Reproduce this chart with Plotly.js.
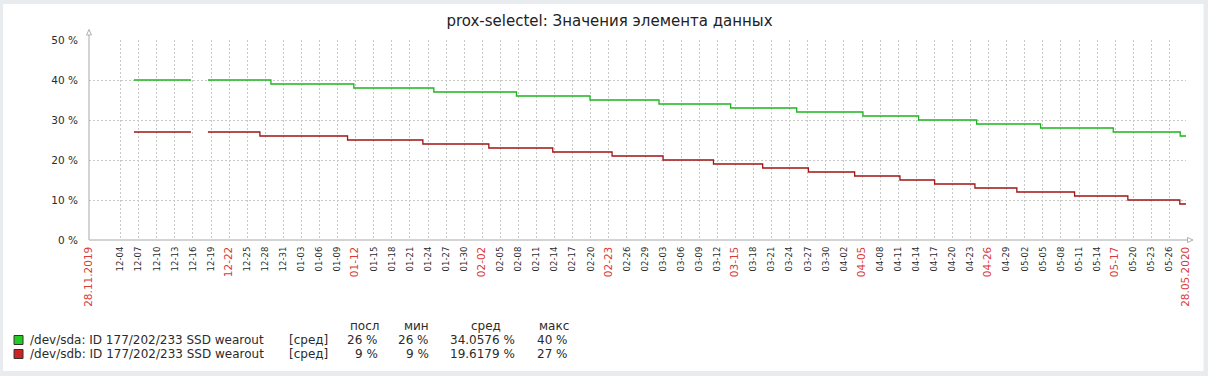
<!DOCTYPE html>
<html>
<head>
<meta charset="utf-8">
<script src="https://cdn.plot.ly/plotly-3.0.1.min.js"></script>
<style>html,body{margin:0;padding:0;background:#fff;}#chart{width:1208px;height:376px;}</style>
</head>
<body>
<div id="chart"></div>
<script>
// ---- data ----
const chartTitle = 'prox-selectel: Значения элемента данных';
const rangeStart = '2019-11-28 18:00';
const rangeEnd = '2020-05-28 18:00';

const sdaTimes = ['2019-12-06 05:00','2019-12-15 16:00','2019-12-15 17:00','2019-12-18 11:30','2019-12-28 22:20','2020-01-11 16:30','2020-01-24 23:00','2020-02-07 16:00','2020-02-19 21:00','2020-03-02 07:40','2020-03-14 05:00','2020-03-25 04:00','2020-04-05 03:40','2020-04-14 09:20','2020-04-24 00:15','2020-05-04 15:00','2020-05-16 16:20','2020-05-27 19:00','2020-05-28 18:00'];
const sdaValues = [40,40,null,40,39,38,37,36,35,34,33,32,31,30,29,28,27,26,26];

const sdbTimes = ['2019-12-06 05:00','2019-12-15 16:00','2019-12-15 17:00','2019-12-18 11:30','2019-12-27 02:30','2020-01-10 15:30','2020-01-23 03:20','2020-02-03 02:00','2020-02-13 16:30','2020-02-23 12:40','2020-03-02 23:45','2020-03-11 08:30','2020-03-19 12:30','2020-03-27 02:30','2020-04-03 18:40','2020-04-11 07:00','2020-04-17 01:00','2020-04-23 17:30','2020-04-30 16:30','2020-05-10 06:15','2020-05-19 02:30','2020-05-27 17:20','2020-05-28 18:00'];
const sdbValues = [27,27,null,27,26,25,24,23,22,21,20,19,18,17,16,15,14,13,12,11,10,9,9];

const seriesNames = ['/dev/sda: ID 177/202/233 SSD wearout','/dev/sdb: ID 177/202/233 SSD wearout'];
const seriesFunc = ['[сред]','[сред]'];
const statHeaders = ['посл','мин','сред','макс'];
const sdaStats = ['26 %','26 %','34.0576 %','40 %'];
const sdbStats = ['9 %','9 %','19.6179 %','27 %'];

const yTickVals = [0,10,20,30,40,50];
const yTickText = ['0 %','10 %','20 %','30 %','40 %','50 %'];
const redTickLabels = ['12-22','01-12','02-02','02-23','03-15','04-05','04-26','05-17'];
const edgeTickLabels = ['28.11.2019','28.05.2020'];
const firstTick = '2019-12-04';
const lastTick = '2020-05-26';

// ---- styles ----
const GREEN = '#1db41d', RED = '#a01515';
const GREEN_BOX = '#22cc22', RED_BOX = '#cc2222';
const TXT = '#2b2b2b', RED_TXT = '#d83b3b';
const FONT = 'DejaVu Sans';

// build 3-day tick list
const redSpan = s => '<span style="color:' + RED_TXT + ';font-size:10.5px">' + s + '</span>';
const tickVals = [rangeStart], tickText = [redSpan(edgeTickLabels[0])];
{
  let d = new Date(firstTick + 'T00:00:00Z');
  const end = new Date(lastTick + 'T00:00:00Z');
  while (d <= end) {
    const iso = d.toISOString().slice(0,10);
    const lbl = iso.slice(5);
    tickVals.push(iso);
    tickText.push(redTickLabels.includes(lbl) ? redSpan(lbl) : lbl);
    d = new Date(d.getTime() + 3*86400000);
  }
}
tickVals.push(rangeEnd);
tickText.push(redSpan(edgeTickLabels[1]));

// pixel helpers (plot area 89..1186.5, 40..240)
const L = 89, R = 1186.5, T = 40, B = 240;
const px = x => (x - L) / (R - L);
const py = y => (B - y) / (B - T);

const traces = [
  {x: sdaTimes, y: sdaValues, type: 'scatter', mode: 'lines', line: {shape: 'hv', color: GREEN, width: 1.3}, connectgaps: false, hoverinfo: 'skip'},
  {x: sdbTimes, y: sdbValues, type: 'scatter', mode: 'lines', line: {shape: 'hv', color: RED, width: 1.3}, connectgaps: false, hoverinfo: 'skip'}
];

const shapes = [
  {type: 'rect', xref: 'paper', yref: 'paper', x0: px(3), x1: px(1204), y0: py(371), y1: py(4), fillcolor: '#ffffff', line: {width: 0}, layer: 'below'},
  {type: 'line', xref: 'paper', yref: 'paper', x0: px(89), x1: px(89), y0: py(240), y1: py(35), line: {color: '#a8a8a8', width: 1}},
  {type: 'path', xref: 'paper', yref: 'paper', path: '', line: {color: '#b0b0b0', width: 1}, fillcolor: '#ffffff'},
  {type: 'line', xref: 'paper', yref: 'paper', x0: px(89), x1: px(1188), y0: py(240), y1: py(240), line: {color: '#a8a8a8', width: 1}},
  {type: 'path', xref: 'paper', yref: 'paper', path: '', line: {color: '#b0b0b0', width: 1}, fillcolor: '#ffffff'},
  {type: 'rect', xref: 'paper', yref: 'paper', x0: px(14), x1: px(23), y0: py(344.5), y1: py(335.5), fillcolor: GREEN_BOX, line: {color: '#333', width: 1}},
  {type: 'rect', xref: 'paper', yref: 'paper', x0: px(14), x1: px(23), y0: py(358.5), y1: py(349.5), fillcolor: RED_BOX, line: {color: '#333', width: 1}}
];
shapes[2].path = 'M ' + px(86.5) + ' ' + py(35) + ' L ' + px(89) + ' ' + py(29.5) + ' L ' + px(91.5) + ' ' + py(35) + ' Z';
shapes[4].path = 'M ' + px(1188) + ' ' + py(237.5) + ' L ' + px(1193.5) + ' ' + py(240) + ' L ' + px(1188) + ' ' + py(242.5) + ' Z';

const ann = [];
const f = (size, color) => ({family: FONT, size: size, color: color || TXT});
const LF = 12;
const headerCenters = [365, 417, 486, 554];
const valueRights = [380, 431, 517, 570];
statHeaders.forEach((h, i) => ann.push({xref: 'paper', yref: 'paper', x: px(headerCenters[i]), y: py(326), text: h, showarrow: false, xanchor: 'center', yanchor: 'middle', font: f(LF)}));
[sdaStats, sdbStats].forEach((row, r) => {
  const yy = py(r === 0 ? 340 : 354);
  ann.push({xref: 'paper', yref: 'paper', x: px(28), y: yy, text: seriesNames[r], showarrow: false, xanchor: 'left', yanchor: 'middle', font: f(LF)});
  ann.push({xref: 'paper', yref: 'paper', x: px(287), y: yy, text: seriesFunc[r], showarrow: false, xanchor: 'left', yanchor: 'middle', font: f(LF)});
  row.forEach((v, i) => ann.push({xref: 'paper', yref: 'paper', x: px(valueRights[i]), y: yy, text: v, showarrow: false, xanchor: 'right', yanchor: 'middle', font: f(LF)}));
});

const layout = {
  width: 1208, height: 376,
  margin: {l: L, r: 1208 - R, t: T, b: 376 - B, pad: 0},
  paper_bgcolor: '#e9ecef', plot_bgcolor: '#ffffff',
  showlegend: false,
  title: {text: chartTitle, font: {family: FONT, size: 15, color: '#222'}, x: 609.5/1208, xanchor: 'center', y: 1 - 21/376, yanchor: 'middle', xref: 'container', yref: 'container'},
  xaxis: {
    type: 'date', range: [rangeStart, rangeEnd], tickmode: 'array', tickvals: tickVals, ticktext: tickText,
    tickangle: -90, tickfont: {family: FONT, size: 8.5, color: TXT}, ticks: '', ticklabelstandoff: 4,
    showgrid: true, gridcolor: '#c8c8c8', griddash: '2px,2px', gridwidth: 1, showline: false, zeroline: false, fixedrange: true
  },
  yaxis: {
    range: [0, 50], tickmode: 'array', tickvals: yTickVals, ticktext: yTickText, tickfont: {family: FONT, size: 10.5, color: TXT},
    ticks: '', ticklabelstandoff: 10, showgrid: true, gridcolor: '#c8c8c8', griddash: '2px,2px', gridwidth: 1, showline: false, zeroline: false, fixedrange: true
  },
  shapes: shapes, annotations: ann
};

Plotly.newPlot('chart', traces, layout, {staticPlot: true, displayModeBar: false});
</script>
</body>
</html>
